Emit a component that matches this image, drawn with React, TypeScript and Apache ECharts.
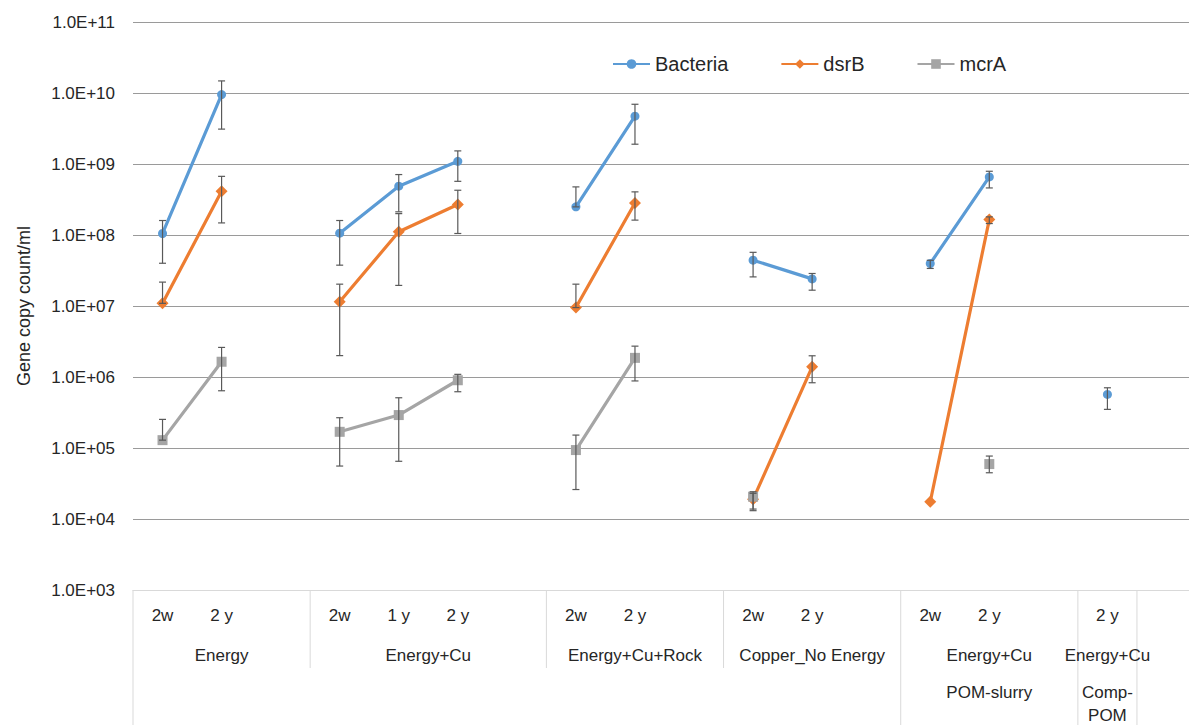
import React, { useEffect, useRef } from "react";
import * as echarts from "echarts";

const categories = ["2w", "2 y", "", "2w", "1 y", "2 y", "", "2w", "2 y", "", "2w", "2 y", "", "2w", "2 y", "", "2 y", ""];

const bacteria = [1.05e8, 9.5e9, null, 1.06e8, 4.87e8, 1.09e9, null, 2.49e8, 4.71e9, null, 4.42e7, 2.41e7, null, 3.97e7, 6.58e8, null, 5.69e5, null];
const bacteriaHigh = [1.6e8, 1.48e10, null, 1.6e8, 7.1e8, 1.53e9, null, 4.76e8, 6.94e9, null, 5.7e7, 2.87e7, null, 4.4e7, 7.9e8, null, 7.05e5, null];
const bacteriaLow = [4.0e7, 3.1e9, null, 3.76e7, 2.12e8, 5.7e8, null, 2.49e8, 1.9e9, null, 2.57e7, 1.67e7, null, 3.38e7, 4.6e8, null, 3.5e5, null];

const dsrB = [1.09e7, 4.14e8, null, 1.15e7, 1.11e8, 2.69e8, null, 9.5e6, 2.83e8, null, 1.89e4, 1.39e6, null, 1.75e4, 1.65e8, null, null, null];
const dsrBHigh = [2.17e7, 6.7e8, null, 2.03e7, 2.0e8, 4.27e8, null, 2.03e7, 4.05e8, null, 2.3e4, 1.99e6, null, null, 1.8e8, null, null, null];
const dsrBLow = [1.09e7, 1.48e8, null, 2.0e6, 1.95e7, 1.05e8, null, 9.5e6, 1.62e8, null, 1.31e4, 8.3e5, null, null, 1.45e8, null, null, null];

const mcrA = [1.29e5, 1.64e6, null, 1.69e5, 2.91e5, 9.0e5, null, 9.35e4, 1.86e6, null, 2.06e4, null, null, null, 5.94e4, null, null, null];
const mcrAHigh = [2.53e5, 2.61e6, null, 2.67e5, 5.1e5, 1.09e6, null, 1.52e5, 2.72e6, null, 2.42e4, null, null, null, 7.7e4, null, null, null];
const mcrALow = [1.29e5, 6.4e5, null, 5.57e4, 6.5e4, 6.2e5, null, 2.6e4, 8.8e5, null, 1.38e4, null, null, null, 4.48e4, null, null, null];

const groupLabels = ["Energy", "Energy+Cu", "Energy+Cu+Rock", "Copper_No Energy", "Energy+Cu", "Energy+Cu"];
const groupSpans = [[0, 3], [3, 7], [7, 10], [10, 13], [13, 16], [16, 17]];
const outerLabels = ["", "POM-slurry", "Comp-\nPOM"];
const outerSpans = [[0, 13], [13, 16], [16, 17]];

const yTitle = "Gene copy count/ml";
const seriesNames = ["Bacteria", "dsrB", "mcrA"];
const colors = ["#5B9BD5", "#ED7D31", "#A5A5A5"];
const FONT = "Liberation Sans";
const TEXT = "#262626";

function errData(high: (number | null)[], low: (number | null)[]) {
  const out: number[][] = [];
  high.forEach((h, i) => {
    const l = low[i];
    if (h != null && l != null) out.push([i, l, h]);
  });
  return out;
}

function errSeries(high: (number | null)[], low: (number | null)[]) {
  return {
    type: "custom",
    z: 5,
    silent: true,
    data: errData(high, low),
    encode: { x: 0, y: [1, 2] },
    renderItem: (params: any, api: any) => {
      const x = api.value(0);
      const lo = api.coord([x, api.value(1)]);
      const hi = api.coord([x, api.value(2)]);
      const cap = 3.5;
      const style = { stroke: "#595959", lineWidth: 1.2 };
      return {
        type: "group",
        children: [
          { type: "line", shape: { x1: hi[0], y1: hi[1], x2: lo[0], y2: lo[1] }, style },
          { type: "line", shape: { x1: hi[0] - cap, y1: hi[1], x2: hi[0] + cap, y2: hi[1] }, style },
          { type: "line", shape: { x1: lo[0] - cap, y1: lo[1], x2: lo[0] + cap, y2: lo[1] }, style },
        ],
      };
    },
  };
}

export default function App() {
  const ref = useRef<HTMLDivElement>(null);
  useEffect(() => {
    if (!ref.current) return;
    const chart = echarts.init(ref.current, undefined, { renderer: "svg" });
    const lineSeries = (name: string, data: (number | null)[], color: string, symbol: string, size: number) => ({
      name,
      type: "line",
      data,
      symbol,
      symbolSize: size,
      showAllSymbol: true,
      connectNulls: false,
      z: 3,
      itemStyle: { color },
      lineStyle: { color, width: 3.2 },
    });
    chart.setOption({
      animation: false,
      backgroundColor: "#ffffff",
      grid: { left: 133, top: 22, right: 0, height: 568 },
      legend: {
        data: seriesNames,
        left: 607,
        top: 49,
        itemWidth: 37,
        itemHeight: 12,
        itemGap: 52,
        textStyle: { fontFamily: FONT, fontSize: 20, color: TEXT },
      },
      xAxis: {
        type: "category",
        data: categories,
        boundaryGap: true,
        axisLine: { show: true, lineStyle: { color: "#d9d9d9", width: 1 } },
        axisTick: { show: false },
        splitLine: { show: false },
        axisLabel: { interval: 0, margin: 17, fontFamily: FONT, fontSize: 17, color: TEXT },
      },
      yAxis: {
        type: "log",
        logBase: 10,
        min: 1e3,
        max: 1e11,
        splitNumber: 8,
        axisLine: { show: false },
        axisTick: { show: false },
        splitLine: { show: true, showMinLine: false, lineStyle: { color: "#9a9a9a", width: 1 } },
        axisLabel: {
          margin: 18,
          fontFamily: FONT,
          fontSize: 17,
          color: TEXT,
          formatter: (v: number) => {
            const e = Math.round(Math.log10(v));
            return "1.0E+" + (e < 10 ? "0" + e : String(e));
          },
        },
      },
      series: [
        lineSeries(seriesNames[0], bacteria, colors[0], "circle", 9),
        lineSeries(seriesNames[1], dsrB, colors[1], "diamond", 12),
        lineSeries(seriesNames[2], mcrA, colors[2], "rect", 10),
        errSeries(bacteriaHigh, bacteriaLow),
        errSeries(dsrBHigh, dsrBLow),
        errSeries(mcrAHigh, mcrALow),
      ],
    });

    const c0 = chart.convertToPixel({ xAxisIndex: 0 }, 0) as number;
    const c1 = chart.convertToPixel({ xAxisIndex: 0 }, 1) as number;
    const band = c1 - c0;
    const edge = (i: number) => c0 - band / 2 + i * band;
    const axisY = chart.convertToPixel({ yAxisIndex: 0 }, 1e3) as number;
    const topY = chart.convertToPixel({ yAxisIndex: 0 }, 1e11) as number;

    const graphics: any[] = [];
    graphics.push({
      type: "text",
      x: 24,
      y: (axisY + topY) / 2,
      rotation: Math.PI / 2,
      z: 2,
      style: { text: yTitle, fill: TEXT, font: `18px "${FONT}"`, textAlign: "center", textVerticalAlign: "middle" },
    });
    const outerBounds = new Set<number>();
    outerSpans.forEach(([a, b]) => { outerBounds.add(a); outerBounds.add(b); });
    const innerBounds = new Set<number>();
    groupSpans.forEach(([a, b]) => { innerBounds.add(a); innerBounds.add(b); });
    outerBounds.forEach((i) => {
      graphics.push({ type: "line", shape: { x1: edge(i), y1: axisY, x2: edge(i), y2: 725 }, style: { stroke: "#d9d9d9", lineWidth: 1 }, z: 1 });
    });
    innerBounds.forEach((i) => {
      if (outerBounds.has(i)) return;
      graphics.push({ type: "line", shape: { x1: edge(i), y1: axisY, x2: edge(i), y2: 668 }, style: { stroke: "#d9d9d9", lineWidth: 1 }, z: 1 });
    });
    groupSpans.forEach(([a, b], k) => {
      graphics.push({
        type: "text",
        x: (edge(a) + edge(b)) / 2,
        y: 655,
        z: 2,
        style: { text: groupLabels[k], fill: TEXT, font: `17px "${FONT}"`, textAlign: "center", textVerticalAlign: "middle" },
      });
    });
    outerSpans.forEach(([a, b], k) => {
      if (!outerLabels[k]) return;
      graphics.push({
        type: "text",
        x: (edge(a) + edge(b)) / 2,
        y: 681,
        z: 2,
        style: { text: outerLabels[k], fill: TEXT, font: `17px "${FONT}"`, textAlign: "center", textVerticalAlign: "top", lineHeight: 23 },
      });
    });
    chart.setOption({ graphic: graphics });

    return () => chart.dispose();
  }, []);
  return <div ref={ref} style={{ position: "fixed", left: 0, top: 0, width: 1196, height: 725 }} />;
}
